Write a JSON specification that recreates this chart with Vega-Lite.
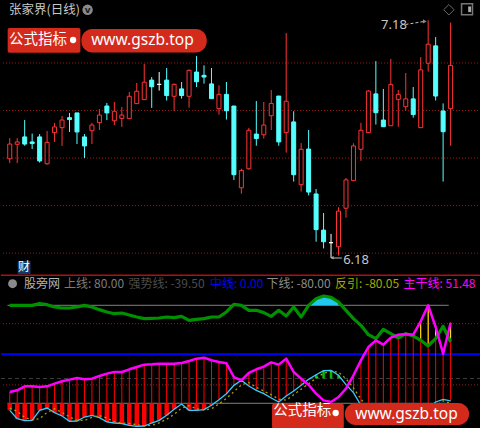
{
"$schema": "https://vega.github.io/schema/vega-lite/v6.json",
"background": "#000000",
"padding": 0,
"spacing": 0,
"bounds": "flush",
"config": {"view": {"stroke": null}, "text": {"font": "Noto Sans CJK SC"}},
"datasets": {
"k": [
{"i":0,"o":6.597,"h":6.684,"l":6.579,"c":6.659},
{"i":1,"o":6.658,"h":6.684,"l":6.579,"c":6.668},
{"i":2,"o":6.689,"h":6.760,"l":6.652,"c":6.659},
{"i":3,"o":6.668,"h":6.703,"l":6.638,"c":6.661},
{"i":4,"o":6.689,"h":6.701,"l":6.581,"c":6.588},
{"i":5,"o":6.576,"h":6.714,"l":6.572,"c":6.666},
{"i":6,"o":6.707,"h":6.748,"l":6.668,"c":6.731},
{"i":7,"o":6.728,"h":6.777,"l":6.651,"c":6.760},
{"i":8,"o":6.770,"h":6.790,"l":6.710,"c":6.762},
{"i":9,"o":6.790,"h":6.790,"l":6.659,"c":6.710},
{"i":10,"o":6.689,"h":6.701,"l":6.600,"c":6.651},
{"i":11,"o":6.715,"h":6.748,"l":6.659,"c":6.739},
{"i":12,"o":6.749,"h":6.806,"l":6.718,"c":6.781},
{"i":13,"o":6.819,"h":6.832,"l":6.760,"c":6.790},
{"i":14,"o":6.757,"h":6.836,"l":6.739,"c":6.797},
{"i":15,"o":6.767,"h":6.815,"l":6.731,"c":6.781},
{"i":16,"o":6.766,"h":6.878,"l":6.766,"c":6.860},
{"i":17,"o":6.829,"h":6.916,"l":6.829,"c":6.881},
{"i":18,"o":6.846,"h":6.996,"l":6.846,"c":6.919},
{"i":19,"o":6.928,"h":6.941,"l":6.811,"c":6.900},
{"i":20,"o":6.910,"h":6.962,"l":6.884,"c":6.910},
{"i":21,"o":6.928,"h":6.979,"l":6.842,"c":6.863},
{"i":22,"o":6.860,"h":6.914,"l":6.799,"c":6.910},
{"i":23,"o":6.891,"h":6.920,"l":6.850,"c":6.863},
{"i":24,"o":6.860,"h":6.973,"l":6.812,"c":6.969},
{"i":25,"o":6.962,"h":7.029,"l":6.899,"c":6.921},
{"i":26,"o":6.948,"h":6.990,"l":6.913,"c":6.941},
{"i":27,"o":6.912,"h":6.979,"l":6.850,"c":6.850},
{"i":28,"o":6.808,"h":6.906,"l":6.783,"c":6.868},
{"i":29,"o":6.868,"h":6.920,"l":6.762,"c":6.799},
{"i":30,"o":6.819,"h":6.819,"l":6.508,"c":6.530},
{"i":31,"o":6.475,"h":6.555,"l":6.450,"c":6.548},
{"i":32,"o":6.555,"h":6.727,"l":6.551,"c":6.717},
{"i":33,"o":6.701,"h":6.840,"l":6.652,"c":6.682},
{"i":34,"o":6.698,"h":6.836,"l":6.682,"c":6.739},
{"i":35,"o":6.778,"h":6.886,"l":6.718,"c":6.830},
{"i":36,"o":6.861,"h":6.861,"l":6.652,"c":6.668},
{"i":37,"o":6.707,"h":7.126,"l":6.623,"c":6.839},
{"i":38,"o":6.752,"h":6.797,"l":6.501,"c":6.530},
{"i":39,"o":6.488,"h":6.663,"l":6.459,"c":6.637},
{"i":40,"o":6.638,"h":6.718,"l":6.443,"c":6.457},
{"i":41,"o":6.449,"h":6.470,"l":6.248,"c":6.299},
{"i":42,"o":6.297,"h":6.369,"l":6.220,"c":6.248},
{"i":43,"o":6.244,"h":6.281,"l":6.180,"c":6.244},
{"i":44,"o":6.227,"h":6.393,"l":6.190,"c":6.377},
{"i":45,"o":6.389,"h":6.516,"l":6.349,"c":6.508},
{"i":46,"o":6.505,"h":6.662,"l":6.505,"c":6.651},
{"i":47,"o":6.637,"h":6.748,"l":6.588,"c":6.717},
{"i":48,"o":6.707,"h":6.886,"l":6.707,"c":6.882},
{"i":49,"o":6.870,"h":7.008,"l":6.741,"c":6.791},
{"i":50,"o":6.760,"h":6.891,"l":6.732,"c":6.732},
{"i":51,"o":6.736,"h":7.017,"l":6.736,"c":6.910},
{"i":52,"o":6.847,"h":6.886,"l":6.732,"c":6.868},
{"i":53,"o":6.816,"h":6.958,"l":6.799,"c":6.849},
{"i":54,"o":6.849,"h":6.899,"l":6.770,"c":6.783},
{"i":55,"o":6.728,"h":7.025,"l":6.728,"c":6.971},
{"i":56,"o":6.999,"h":7.180,"l":6.964,"c":7.079},
{"i":57,"o":7.072,"h":7.109,"l":6.842,"c":6.861},
{"i":58,"o":6.798,"h":6.830,"l":6.501,"c":6.711},
{"i":59,"o":6.808,"h":7.170,"l":6.652,"c":6.990}
],
"ind": [
{"i":0,"g":79.9,"m":-61.5,"c":-91.5,"f":-88},
{"i":1,"g":79.9,"m":-58.8,"c":-105.1,"f":-93},
{"i":2,"g":79.9,"m":-52.3,"c":-108.4,"f":-103},
{"i":3,"g":79.9,"m":-52.3,"c":-107.8,"f":-107},
{"i":4,"g":82.7,"m":-53.4,"c":-91.5,"f":-105},
{"i":5,"g":81.0,"m":-52.3,"c":-87.7,"f":-95},
{"i":6,"g":77.2,"m":-47.9,"c":-95.3,"f":-89},
{"i":7,"g":75.6,"m":-44.1,"c":-100.7,"f":-95},
{"i":8,"g":75.6,"m":-41.4,"c":-109.4,"f":-102},
{"i":9,"g":77.2,"m":-38.7,"c":-108.9,"f":-108},
{"i":10,"g":79.9,"m":-40.9,"c":-102.4,"f":-108},
{"i":11,"g":77.2,"m":-39.8,"c":-99.6,"f":-103},
{"i":12,"g":72.9,"m":-35.4,"c":-103.5,"f":-100},
{"i":13,"g":69.1,"m":-31.6,"c":-110.5,"f":-104},
{"i":14,"g":66.3,"m":-28.9,"c":-112.2,"f":-110},
{"i":15,"g":67.4,"m":-28.9,"c":-113.3,"f":-112},
{"i":16,"g":64.2,"m":-24.5,"c":-116.0,"f":-113},
{"i":17,"g":60.9,"m":-20.7,"c":-117.6,"f":-115},
{"i":18,"g":58.2,"m":-16.9,"c":-117.1,"f":-117},
{"i":19,"g":58.7,"m":-16.4,"c":-112.2,"f":-116},
{"i":20,"g":59.3,"m":-15.3,"c":-107.8,"f":-112},
{"i":21,"g":60.9,"m":-15.3,"c":-99.6,"f":-106},
{"i":22,"g":59.8,"m":-15.3,"c":-89.8,"f":-98},
{"i":23,"g":62.0,"m":-14.2,"c":-81.1,"f":-88},
{"i":24,"g":55.5,"m":-10.9,"c":-91.5,"f":-84},
{"i":25,"g":57.1,"m":-7.1,"c":-91.5,"f":-89},
{"i":26,"g":58.2,"m":-5.5,"c":-90.4,"f":-91},
{"i":27,"g":60.9,"m":-9.8,"c":-83.3,"f":-89},
{"i":28,"g":60.9,"m":-12.6,"c":-74.1,"f":-81},
{"i":29,"g":69.1,"m":-14.7,"c":-64.3,"f":-72},
{"i":30,"g":81.6,"m":-37.1,"c":-50.7,"f":-61},
{"i":31,"g":79.9,"m":-42.5,"c":-42.5,"f":-50},
{"i":32,"g":71.8,"m":-30.5,"c":-51.8,"f":-46},
{"i":33,"g":71.8,"m":-24.5,"c":-58.8,"f":-54},
{"i":34,"g":68.0,"m":-20.2,"c":-64.3,"f":-60},
{"i":35,"g":62.0,"m":-13.1,"c":-71.3,"f":-66},
{"i":36,"g":71.8,"m":-16.9,"c":-77.9,"f":-73},
{"i":37,"g":62.5,"m":-7.1,"c":-68.1,"f":-75},
{"i":38,"g":77.2,"m":-28.9,"c":-59.9,"f":-66},
{"i":39,"g":60.9,"m":-39.8,"c":-50.7,"f":-57},
{"i":40,"g":79.9,"m":-49.6,"c":-40.9,"f":-48},
{"i":41,"g":90.8,"m":-64.3,"c":-33.3,"f":-39},
{"i":42,"g":95.2,"m":-75.2,"c":-26.7,"f":-31},
{"i":43,"g":93.0,"m":-77.9,"c":-26.2,"f":-28},
{"i":44,"g":85.4,"m":-69.7,"c":-34.3,"f":-29},
{"i":45,"g":71.8,"m":-56.1,"c":-49.6,"f":-40},
{"i":46,"g":58.2,"m":-34.3,"c":-62.6,"f":-55},
{"i":47,"g":47.3,"m":-9.9,"c":-83.3,"f":-73},
{"i":48,"g":32.1,"m":11.9,"c":-94.2,"f":-88},
{"i":49,"g":25.5,"m":22.8,"c":-99.6,"f":-96},
{"i":50,"g":40.7,"m":15.7,"c":-102.4,"f":-101},
{"i":51,"g":33.7,"m":27.1,"c":-100.7,"f":-102},
{"i":52,"g":26.6,"m":32.1,"c":-99.6,"f":-100},
{"i":53,"g":33.7,"m":33.1,"c":-96.9,"f":-98},
{"i":54,"g":29.9,"m":32.1,"c":-94.2,"f":-95},
{"i":55,"g":22.8,"m":53.8,"c":-93.1,"f":-94},
{"i":56,"g":13.6,"m":79.9,"c":-88.8,"f":-91},
{"i":57,"g":25.5,"m":44.6,"c":-77.9,"f":-84},
{"i":58,"g":45.7,"m":1.0,"c":-73.5,"f":-76},
{"i":59,"g":20.1,"m":51.48,"c":-76,"f":-80.05}
]
},
"vconcat": [
{
"width": 480, "height": 272,
"layer": [
{"data": {"values": [{"p":7.0},{"p":6.8},{"p":6.6},{"p":6.4},{"p":6.2}]},
 "mark": {"type": "rule", "color": "#a01818", "strokeDash": [1, 2], "strokeWidth": 1},
 "encoding": {"y": {"field": "p", "type": "quantitative", "scale": {"domain": [6.1123, 7.2566], "nice": false, "zero": false}, "axis": null}}},
{"data": {"name": "k"},
 "mark": {"type": "rule", "strokeWidth": 1},
 "encoding": {
  "x": {"field": "i", "type": "quantitative", "scale": {"domain": [-0.5, 62.4], "nice": false, "zero": false}, "axis": null},
  "y": {"field": "l", "type": "quantitative", "scale": {"domain": [6.1123, 7.2566], "nice": false, "zero": false}, "axis": null},
  "y2": {"field": "h"},
  "color": {"condition": [{"test": "datum.c > datum.o", "value": "#ff3434"}, {"test": "datum.c == datum.o", "value": "#ffffff"}], "value": "#54ffff"}
 }},
{"data": {"name": "k"},
 "mark": {"type": "bar", "width": 4, "strokeWidth": 1},
 "encoding": {
  "x": {"field": "i", "type": "quantitative"},
  "y": {"field": "o", "type": "quantitative"},
  "y2": {"field": "c"},
  "fill": {"condition": [{"test": "datum.c > datum.o", "value": "#000000"}, {"test": "datum.c == datum.o", "value": "#ffffff"}], "value": "#54ffff"},
  "stroke": {"condition": [{"test": "datum.c > datum.o", "value": "#ff3434"}, {"test": "datum.c == datum.o", "value": "#ffffff"}], "value": "#54ffff"}
 }},
{"data": {"values": [{}]},
 "mark": {"type": "text", "text": "张家界(日线)", "align": "left", "baseline": "middle", "fontSize": 12.5, "color": "#c8c8c8"},
 "encoding": {"x": {"datum": -0.107}, "y": {"datum": 7.2215}}},
{"data": {"values": [{}]},
 "mark": {"type": "point", "shape": "circle", "filled": true, "size": 110, "color": "#8a8a8a", "opacity": 1},
 "encoding": {"x": {"datum": 10.416}, "y": {"datum": 7.2235}}},
{"data": {"values": [{}]},
 "mark": {"type": "text", "text": "v", "align": "center", "baseline": "middle", "fontSize": 9, "fontWeight": "bold", "color": "#202020", "font": "DejaVu Sans"},
 "encoding": {"x": {"datum": 10.416}, "y": {"datum": 7.2245}}},
{"data": {"values": [{}]},
 "mark": {"type": "point", "shape": "diamond", "filled": false, "size": 110, "color": "#9a9a9a", "strokeWidth": 1},
 "encoding": {"x": {"datum": 58.77}, "y": {"datum": 7.224}}},
{"data": {"values": [{}]},
 "mark": {"type": "point", "shape": "square", "filled": false, "size": 120, "color": "#a8a8a8", "strokeWidth": 1.5},
 "encoding": {"x": {"datum": 61.2}, "y": {"datum": 7.226}}},
{"data": {"values": [{}]},
 "mark": {"type": "rule", "color": "#a8a8a8", "strokeWidth": 3},
 "encoding": {"x": {"datum": 61.55}, "y": {"datum": 7.214}, "y2": {"datum": 7.238}}},
{"data": {"values": [{}]},
 "mark": {"type": "text", "text": "7.18", "align": "left", "baseline": "middle", "fontSize": 13, "color": "#c8c8c8", "font": "Noto Sans"},
 "encoding": {"x": {"datum": 49.69}, "y": {"datum": 7.158}}},
{"data": {"values": [{}]},
 "mark": {"type": "rule", "color": "#c0c0c0", "strokeDash": [3, 2], "strokeWidth": 1},
 "encoding": {"x": {"datum": 52.97}, "x2": {"datum": 55.45}, "y": {"datum": 7.162}, "y2": {"datum": 7.1746}}},
{"data": {"values": [{}]},
 "mark": {"type": "point", "shape": "triangle-right", "filled": true, "size": 18, "color": "#c0c0c0"},
 "encoding": {"x": {"datum": 55.55}, "y": {"datum": 7.1746}}},
{"data": {"values": [{}]},
 "mark": {"type": "rule", "color": "#c0c0c0", "strokeWidth": 1},
 "encoding": {"x": {"datum": 43.0}, "x2": {"datum": 44.45}, "y": {"datum": 6.1796}}},
{"data": {"values": [{}]},
 "mark": {"type": "point", "shape": "triangle-left", "filled": true, "size": 14, "color": "#c0c0c0"},
 "encoding": {"x": {"datum": 43.15}, "y": {"datum": 6.181}}},
{"data": {"values": [{}]},
 "mark": {"type": "text", "text": "6.18", "align": "left", "baseline": "middle", "fontSize": 13, "color": "#c8c8c8", "font": "Noto Sans"},
 "encoding": {"x": {"datum": 44.62}, "y": {"datum": 6.1725}}},
{"data": {"values": [{}]},
 "mark": {"type": "rect", "color": "#0b3a70"},
 "encoding": {"x": {"datum": 1.07}, "x2": {"datum": 2.78}, "y": {"datum": 6.1672}, "y2": {"datum": 6.1123}}},
{"data": {"values": [{}]},
 "mark": {"type": "text", "text": "财", "align": "center", "baseline": "middle", "fontSize": 12, "color": "#ffffff"},
 "encoding": {"x": {"datum": 1.92}, "y": {"datum": 6.141}}},
{"data": {"values": [{}]},
 "mark": {"type": "rect", "color": "#d42a1c", "cornerRadius": 2},
 "encoding": {"x": {"datum": -0.277}, "x2": {"datum": 9.459}, "y": {"datum": 7.1472}, "y2": {"datum": 7.0433}}},
{"data": {"values": [{}]},
 "mark": {"type": "rect", "color": "#d42a1c", "cornerRadius": 11},
 "encoding": {"x": {"datum": 9.59}, "x2": {"datum": 26.364}, "y": {"datum": 7.143}, "y2": {"datum": 7.0441}}},
{"data": {"values": [{}]},
 "mark": {"type": "text", "text": "公式指标", "align": "left", "baseline": "middle", "fontSize": 14.5, "color": "#ffffff"},
 "encoding": {"x": {"datum": -0.107}, "y": {"datum": 7.0988}}},
{"data": {"values": [{}]},
 "mark": {"type": "point", "shape": "circle", "filled": true, "size": 40, "color": "#ffffff", "opacity": 1},
 "encoding": {"x": {"datum": 8.477}, "y": {"datum": 7.0967}}},
{"data": {"values": [{}]},
 "mark": {"type": "text", "text": "www.gszb.top", "align": "left", "baseline": "middle", "fontSize": 15.5, "color": "#ffffff", "font": "Noto Sans"},
 "encoding": {"x": {"datum": 10.9}, "y": {"datum": 7.0988}}}
]
},
{
"width": 480, "height": 156,
"layer": [
{"data": {"values": [{}]},
 "mark": {"type": "rule", "color": "#b01010", "strokeWidth": 1.5},
 "encoding": {"y": {"datum": 129.0, "scale": {"domain": [-123.6, 131.1], "nice": false, "zero": false}, "axis": null}}},
{"data": {"values": [{"v":50},{"v":-50}]},
 "mark": {"type": "rule", "color": "#a01818", "strokeDash": [1, 2], "strokeWidth": 1},
 "encoding": {"y": {"field": "v", "type": "quantitative"}}},
{"data": {"values": [{}]},
 "mark": {"type": "rule", "color": "#0000ff", "strokeWidth": 2},
 "encoding": {"y": {"datum": 0}}},
{"data": {"values": [{}]},
 "mark": {"type": "rule", "color": "#3c3c3c", "strokeDash": [4, 3], "strokeWidth": 1},
 "encoding": {"y": {"datum": -39.5}}},
{"data": {"values": [{"v":80},{"v":-80}]},
 "mark": {"type": "rule", "color": "#808080", "strokeWidth": 1},
 "encoding": {"x": {"datum": -0.3, "scale": {"domain": [-0.5, 62.4], "nice": false, "zero": false}, "axis": null}, "x2": {"datum": 58.75}, "y": {"field": "v", "type": "quantitative"}}},
{"data": {"name": "ind"},
 "transform": [{"filter": "datum.c < -80"}],
 "mark": {"type": "bar", "width": 4.5, "color": "#ff0000"},
 "encoding": {"x": {"field": "i", "type": "quantitative"}, "y": {"field": "c", "type": "quantitative"}, "y2": {"datum": -80}}},
{"data": {"name": "ind"},
 "transform": [{"filter": "datum.m > datum.c"}],
 "mark": {"type": "rule", "color": "#ff0000", "strokeWidth": 1},
 "encoding": {"x": {"field": "i", "type": "quantitative"}, "y": {"field": "m", "type": "quantitative"}, "y2": {"field": "c"}}},
{"data": {"name": "ind"},
 "transform": [{"filter": "datum.m > datum.g"}],
 "mark": {"type": "rule", "color": "#ffff00", "strokeWidth": 1},
 "encoding": {"x": {"field": "i", "type": "quantitative"}, "y": {"field": "m", "type": "quantitative"}, "y2": {"field": "g"}}},
{"data": {"name": "ind"},
 "transform": [{"filter": "datum.c > -39.5"}],
 "mark": {"type": "bar", "width": 2.5, "color": "#00c000"},
 "encoding": {"x": {"field": "i", "type": "quantitative"}, "y": {"field": "c", "type": "quantitative"}, "y2": {"datum": -39.5}}},
{"data": {"name": "ind"},
 "transform": [{"filter": "datum.i >= 40 && datum.i <= 44"}],
 "mark": {"type": "area", "color": "#20c8f0", "opacity": 1},
 "encoding": {"x": {"field": "i", "type": "quantitative"}, "y": {"field": "g", "type": "quantitative"}, "y2": {"datum": 80}}},
{"data": {"name": "ind"},
 "mark": {"type": "line", "color": "#33ccff", "strokeWidth": 1.3},
 "encoding": {"x": {"field": "i", "type": "quantitative"}, "y": {"field": "c", "type": "quantitative"}}},
{"data": {"name": "ind"},
 "mark": {"type": "line", "color": "#a8a000", "strokeWidth": 1.3, "strokeDash": [2, 3]},
 "encoding": {"x": {"field": "i", "type": "quantitative"}, "y": {"field": "f", "type": "quantitative"}}},
{"data": {"name": "ind"},
 "mark": {"type": "line", "color": "#009000", "strokeWidth": 3.2, "strokeJoin": "round"},
 "encoding": {"x": {"field": "i", "type": "quantitative"}, "y": {"field": "g", "type": "quantitative"}}},
{"data": {"name": "ind"},
 "mark": {"type": "line", "color": "#ff00ff", "strokeWidth": 2.5, "strokeJoin": "round"},
 "encoding": {"x": {"field": "i", "type": "quantitative"}, "y": {"field": "m", "type": "quantitative"}}},
{"data": {"values": [{}]},
 "mark": {"type": "point", "shape": "circle", "filled": true, "size": 80, "color": "#8a8a8a", "opacity": 1},
 "encoding": {"x": {"datum": 0.378}, "y": {"datum": 115.26}}},
{"data": {"values": [{}]},
 "mark": {"type": "text", "text": "股旁网", "align": "left", "baseline": "middle", "fontSize": 12, "color": "#b4b4b4"},
 "encoding": {"x": {"datum": 1.898}, "y": {"datum": 115.26}}},
{"data": {"values": [{}]},
 "mark": {"type": "text", "text": "上线: 80.00", "align": "left", "baseline": "middle", "fontSize": 12, "color": "#7c7c7c"},
 "encoding": {"x": {"datum": 7.271}, "y": {"datum": 115.26}}},
{"data": {"values": [{}]},
 "mark": {"type": "text", "text": "强势线: -39.50", "align": "left", "baseline": "middle", "fontSize": 12, "color": "#4c4c4c"},
 "encoding": {"x": {"datum": 15.88}, "y": {"datum": 115.26}}},
{"data": {"values": [{}]},
 "mark": {"type": "text", "text": "中线: 0.00", "align": "left", "baseline": "middle", "fontSize": 12, "color": "#0000ff"},
 "encoding": {"x": {"datum": 26.8}, "y": {"datum": 115.26}}},
{"data": {"values": [{}]},
 "mark": {"type": "text", "text": "下线: -80.00", "align": "left", "baseline": "middle", "fontSize": 12, "color": "#8c8c8c"},
 "encoding": {"x": {"datum": 34.36}, "y": {"datum": 115.26}}},
{"data": {"values": [{}]},
 "mark": {"type": "text", "text": "反引: -80.05", "align": "left", "baseline": "middle", "fontSize": 12, "color": "#a8a800"},
 "encoding": {"x": {"datum": 43.53}, "y": {"datum": 115.26}}},
{"data": {"values": [{}]},
 "mark": {"type": "text", "text": "主干线: 51.48", "align": "left", "baseline": "middle", "fontSize": 12, "color": "#ff00ff"},
 "encoding": {"x": {"datum": 52.7}, "y": {"datum": 115.26}}},
{"data": {"values": [{}]},
 "mark": {"type": "rect", "color": "#d42a1c", "cornerRadius": 2},
 "encoding": {"x": {"datum": 35.105}, "x2": {"datum": 44.71}, "y": {"datum": -80.66}, "y2": {"datum": -121.5}}},
{"data": {"values": [{}]},
 "mark": {"type": "rect", "color": "#d42a1c", "cornerRadius": 11},
 "encoding": {"x": {"datum": 44.84}, "x2": {"datum": 61.48}, "y": {"datum": -79.5}, "y2": {"datum": -115.4}}},
{"data": {"values": [{}]},
 "mark": {"type": "text", "text": "公式指标", "align": "left", "baseline": "middle", "fontSize": 14.5, "color": "#ffffff"},
 "encoding": {"x": {"datum": 35.28}, "y": {"datum": -92.6}}},
{"data": {"values": [{}]},
 "mark": {"type": "point", "shape": "circle", "filled": true, "size": 40, "color": "#ffffff", "opacity": 1},
 "encoding": {"x": {"datum": 43.62}, "y": {"datum": -95.85}}},
{"data": {"values": [{}]},
 "mark": {"type": "text", "text": "www.gszb.top", "align": "left", "baseline": "middle", "fontSize": 15.5, "color": "#ffffff", "font": "Noto Sans"},
 "encoding": {"x": {"datum": 46.24}, "y": {"datum": -96.7}}}
]
}
]
}
